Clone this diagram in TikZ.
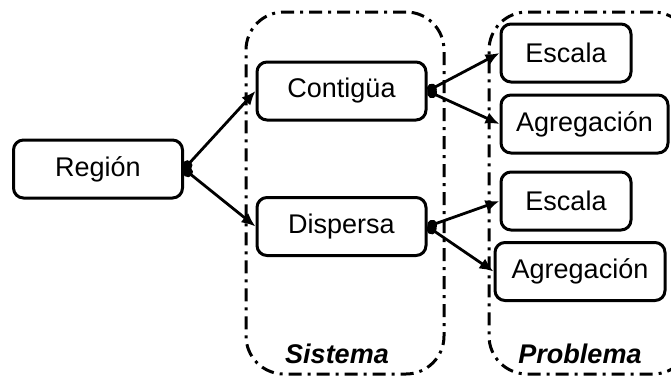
\documentclass[tikz,border=0pt]{standalone}
\usepackage{fontspec}
\setmainfont{Liberation Sans}
\usetikzlibrary{arrows.meta}

\begin{document}
\begin{tikzpicture}[x=1pt,y=-1pt,
  box/.style={draw,line width=3pt,rounded corners=10pt,inner sep=0pt,
    minimum height=58pt,font=\fontsize{27}{32}\selectfont},
  group/.style={draw,line width=3pt,rounded corners=38pt,inner sep=0pt,
    dash pattern=on 13pt off 6pt on 3pt off 6pt},
  link/.style={line width=2.8pt,{Circle[length=10pt]}-{Latex[length=14pt,width=12pt]}},
  grouplabel/.style={font=\fontsize{27}{32}\selectfont\bfseries\itshape}]
\useasboundingbox (0,0) rectangle (671,381);
\clip (0,0) rectangle (671,381);
% containers
\node[group,minimum width=198pt,minimum height=362pt] (sistema) at (345,193) {};
\node[group,minimum width=202pt,minimum height=362pt] (problema) at (590,193) {};
\node[grouplabel] (sistemalbl) at (337,354) {Sistema};
\node[grouplabel] (problemalbl) at (580,354) {Problema};
% boxes
\node[box,minimum width=169pt] (region) at (98,169) {Región};
\node[box,minimum width=169pt] (cont) at (341.5,91) {Contigüa};
\node[box,minimum width=169pt] (disp) at (341.5,226.5) {Dispersa};
\node[box,minimum width=130pt] (esc1) at (566,53) {Escala};
\node[box,minimum width=167pt] (agr1) at (584.5,124) {Agregación};
\node[box,minimum width=130pt] (esc2) at (566,201) {Escala};
\node[box,minimum width=170pt] (agr2) at (580,271.5) {Agregación};
% links
\draw[link] (region.east) -- (cont.west);
\draw[link] (region.east) -- (disp.west);
\draw[link] (cont.east) -- (esc1.west);
\draw[link] (cont.east) -- (agr1.west);
\draw[link] (disp.east) -- (esc2.west);
\draw[link] (disp.east) -- (agr2.west);
\end{tikzpicture}
\end{document}
